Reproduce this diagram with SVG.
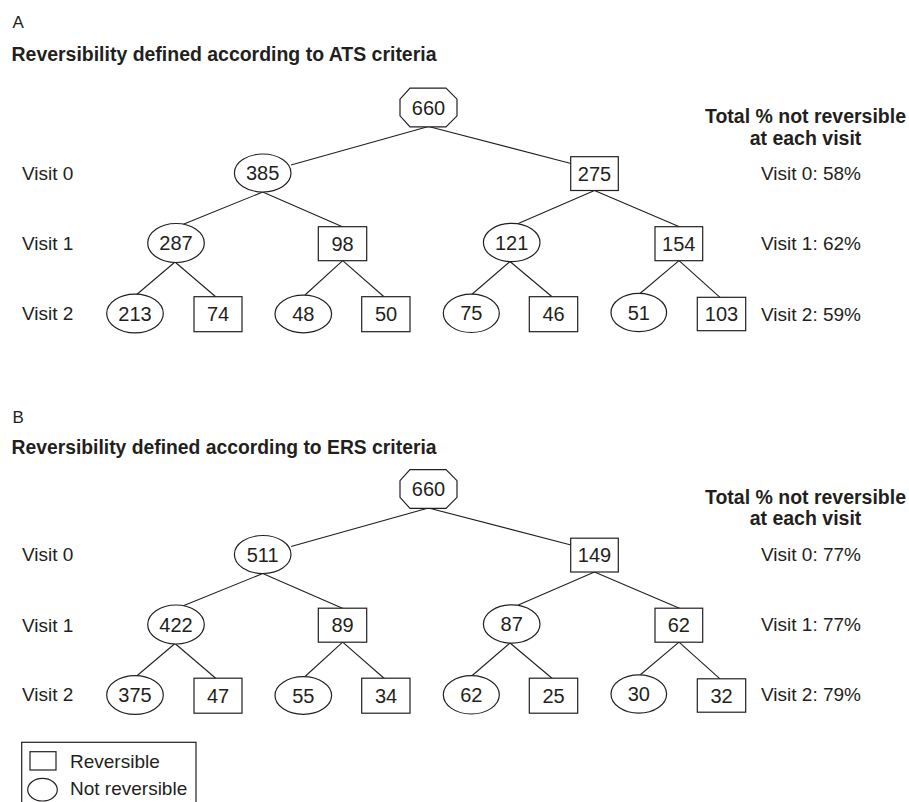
<svg xmlns="http://www.w3.org/2000/svg" width="909" height="802" viewBox="0 0 909 802">
<style>
  .bg{fill:#ffffff}
  .shape{fill:#ffffff;stroke:#231f20;stroke-width:1.2}
  .conn line{stroke:#231f20;stroke-width:1.1}
  text{font-family:"Liberation Sans",Arial,sans-serif;fill:#231f20}
  .num{font-size:20px;text-anchor:middle}
  .lbl{font-size:19px}
  .pct{font-size:19px;text-anchor:end}
  .hdr{font-size:19.5px;font-weight:bold;text-anchor:middle}
  .ttl{font-size:19.5px;font-weight:bold}
  .panel{font-size:17px}
</style>
<defs>
  <polygon id="oct" points="-18.5,-19.3 17.5,-19.3 28.5,-8.3 28.5,8.3 17.5,19.3 -18.5,19.3 -28.5,8.3 -28.5,-8.3"/>
</defs>
<rect class="bg" x="0" y="0" width="909" height="802"/>

<!-- ================= Panel A ================= -->
<g id="panelA">
  <text class="panel" x="12.5" y="27.5">A</text>
  <text class="ttl" x="11.5" y="61" textLength="425" lengthAdjust="spacingAndGlyphs">Reversibility defined according to ATS criteria</text>
  <text class="lbl" x="22" y="179.5">Visit 0</text>
  <text class="lbl" x="22" y="249.5">Visit 1</text>
  <text class="lbl" x="22" y="320">Visit 2</text>
  <text class="hdr" x="805.5" y="123.3" textLength="201" lengthAdjust="spacingAndGlyphs">Total % not reversible</text>
  <text class="hdr" x="805.5" y="145">at each visit</text>
  <text class="pct" x="861" y="180">Visit 0: 58%</text>
  <text class="pct" x="861" y="250">Visit 1: 62%</text>
  <text class="pct" x="861" y="320.5">Visit 2: 59%</text>

  <g id="connectorsA" class="conn">
    <line x1="428.5" y1="126.5" x2="291" y2="165"/>
    <line x1="428.5" y1="126.5" x2="571" y2="163.5"/>
    <line x1="262.7" y1="192" x2="182.7" y2="224.5"/>
    <line x1="262.7" y1="192" x2="343" y2="227"/>
    <line x1="594.5" y1="190.5" x2="518.3" y2="223.5"/>
    <line x1="594.5" y1="190.5" x2="680" y2="227"/>
    <line x1="175" y1="262" x2="136.7" y2="294.5"/>
    <line x1="175" y1="262" x2="216" y2="297"/>
    <line x1="342.7" y1="260.7" x2="305" y2="295"/>
    <line x1="342.7" y1="260.7" x2="384.3" y2="297"/>
    <line x1="510" y1="261.5" x2="471.7" y2="294.5"/>
    <line x1="510" y1="261.5" x2="552.3" y2="297"/>
    <line x1="679" y1="260.7" x2="640" y2="293.5"/>
    <line x1="679" y1="260.7" x2="720" y2="297.3"/>
  </g>

  <g id="A_n660"><use href="#oct" class="shape" x="428.5" y="107.5"/><text class="num" x="428.5" y="114.5">660</text></g>
  <g id="A_n385"><ellipse class="shape" cx="262.7" cy="173" rx="28.3" ry="19"/><text class="num" x="262.7" y="180">385</text></g>
  <g id="A_n275"><rect class="shape" x="570.7" y="156.7" width="47.6" height="33.8"/><text class="num" x="594.5" y="180.5">275</text></g>
  <g id="A_n287"><ellipse class="shape" cx="176" cy="243" rx="28.3" ry="19.5"/><text class="num" x="176" y="250">287</text></g>
  <g id="A_n98"><rect class="shape" x="318.3" y="226.7" width="48.4" height="34"/><text class="num" x="342.5" y="250.7">98</text></g>
  <g id="A_n121"><ellipse class="shape" cx="511.7" cy="242.5" rx="28.3" ry="19.2"/><text class="num" x="511.7" y="249.5">121</text></g>
  <g id="A_n154"><rect class="shape" x="655" y="226.7" width="47.7" height="34"/><text class="num" x="678.8" y="250.7">154</text></g>
  <g id="A_n213"><ellipse class="shape" cx="135" cy="313.5" rx="28.3" ry="19.3"/><text class="num" x="135" y="320.5">213</text></g>
  <g id="A_n74"><rect class="shape" x="194" y="296.7" width="48" height="35"/><text class="num" x="218" y="321.2">74</text></g>
  <g id="A_n48"><ellipse class="shape" cx="303.3" cy="314" rx="28.3" ry="18.8"/><text class="num" x="303.3" y="321">48</text></g>
  <g id="A_n50"><rect class="shape" x="361.7" y="296.7" width="48.3" height="35"/><text class="num" x="386" y="321.2">50</text></g>
  <g id="A_n75"><ellipse class="shape" cx="471.3" cy="313.3" rx="28" ry="19.2"/><text class="num" x="471.3" y="320.3">75</text></g>
  <g id="A_n46"><rect class="shape" x="529.3" y="296.7" width="48.4" height="35"/><text class="num" x="553.5" y="321.2">46</text></g>
  <g id="A_n51"><ellipse class="shape" cx="638.8" cy="312.5" rx="27.8" ry="19.2"/><text class="num" x="638.8" y="319.5">51</text></g>
  <g id="A_n103"><rect class="shape" x="697.3" y="297.3" width="48.4" height="33.4"/><text class="num" x="721.5" y="321.2">103</text></g>
</g>

<!-- ================= Panel B ================= -->
<g id="panelB">
  <text class="panel" x="12.5" y="422.5">B</text>
  <text class="ttl" x="11.5" y="454" textLength="425" lengthAdjust="spacingAndGlyphs">Reversibility defined according to ERS criteria</text>
  <g transform="translate(0,381.5)">
    <text class="lbl" x="22" y="179.5">Visit 0</text>
    <text class="lbl" x="22" y="250">Visit 1</text>
    <text class="lbl" x="22" y="319.5">Visit 2</text>
    <text class="hdr" x="805.5" y="122" textLength="201" lengthAdjust="spacingAndGlyphs">Total % not reversible</text>
    <text class="hdr" x="805.5" y="143.7">at each visit</text>
    <text class="pct" x="861" y="179.3">Visit 0: 77%</text>
    <text class="pct" x="861" y="249.5">Visit 1: 77%</text>
    <text class="pct" x="861" y="319.5">Visit 2: 79%</text>

    <g id="connectorsB" class="conn">
      <line x1="428.5" y1="126.5" x2="291" y2="165"/>
      <line x1="428.5" y1="126.5" x2="571" y2="163.5"/>
      <line x1="262.7" y1="192" x2="182.7" y2="224.5"/>
      <line x1="262.7" y1="192" x2="343" y2="227"/>
      <line x1="594.5" y1="190.5" x2="518.3" y2="223.5"/>
      <line x1="594.5" y1="190.5" x2="680" y2="227"/>
      <line x1="175" y1="262" x2="136.7" y2="294.5"/>
      <line x1="175" y1="262" x2="216" y2="297"/>
      <line x1="342.7" y1="260.7" x2="305" y2="295"/>
      <line x1="342.7" y1="260.7" x2="384.3" y2="297"/>
      <line x1="510" y1="261.5" x2="471.7" y2="294.5"/>
      <line x1="510" y1="261.5" x2="552.3" y2="297"/>
      <line x1="679" y1="260.7" x2="640" y2="293.5"/>
      <line x1="679" y1="260.7" x2="720" y2="297.3"/>
    </g>

    <g id="B_n660"><use href="#oct" class="shape" x="428.5" y="107.5"/><text class="num" x="428.5" y="114.5">660</text></g>
    <g id="B_n511"><ellipse class="shape" cx="262.7" cy="173" rx="28.3" ry="19"/><text class="num" x="262.7" y="180">511</text></g>
    <g id="B_n149"><rect class="shape" x="570.7" y="156.7" width="47.6" height="33.8"/><text class="num" x="594.5" y="180.5">149</text></g>
    <g id="B_n422"><ellipse class="shape" cx="176" cy="243" rx="28.3" ry="19.5"/><text class="num" x="176" y="250">422</text></g>
    <g id="B_n89"><rect class="shape" x="318.3" y="226.7" width="48.4" height="34"/><text class="num" x="342.5" y="250.7">89</text></g>
    <g id="B_n87"><ellipse class="shape" cx="511.7" cy="242.5" rx="28.3" ry="19.2"/><text class="num" x="511.7" y="249.5">87</text></g>
    <g id="B_n62a"><rect class="shape" x="655" y="226.7" width="47.7" height="34"/><text class="num" x="678.8" y="250.7">62</text></g>
    <g id="B_n375"><ellipse class="shape" cx="135" cy="313.5" rx="28.3" ry="19.3"/><text class="num" x="135" y="320.5">375</text></g>
    <g id="B_n47"><rect class="shape" x="194" y="296.7" width="48" height="35"/><text class="num" x="218" y="321.2">47</text></g>
    <g id="B_n55"><ellipse class="shape" cx="303.3" cy="314" rx="28.3" ry="18.8"/><text class="num" x="303.3" y="321">55</text></g>
    <g id="B_n34"><rect class="shape" x="361.7" y="296.7" width="48.3" height="35"/><text class="num" x="386" y="321.2">34</text></g>
    <g id="B_n62b"><ellipse class="shape" cx="471.3" cy="313.3" rx="28" ry="19.2"/><text class="num" x="471.3" y="320.3">62</text></g>
    <g id="B_n25"><rect class="shape" x="529.3" y="296.7" width="48.4" height="35"/><text class="num" x="553.5" y="321.2">25</text></g>
    <g id="B_n30"><ellipse class="shape" cx="638.8" cy="312.5" rx="27.8" ry="19.2"/><text class="num" x="638.8" y="319.5">30</text></g>
    <g id="B_n32"><rect class="shape" x="697.3" y="297.3" width="48.4" height="33.4"/><text class="num" x="721.5" y="321.2">32</text></g>
  </g>
</g>

<!-- ================= Legend ================= -->
<g id="legend">
  <rect class="shape" x="21.7" y="742.3" width="174.3" height="80"/>
  <rect class="shape" x="30" y="751.7" width="26" height="18.3"/>
  <text class="lbl" x="70" y="768.3">Reversible</text>
  <ellipse class="shape" cx="42.5" cy="789.7" rx="14.8" ry="11.3"/>
  <text class="lbl" x="70" y="795">Not reversible</text>
</g>
</svg>
